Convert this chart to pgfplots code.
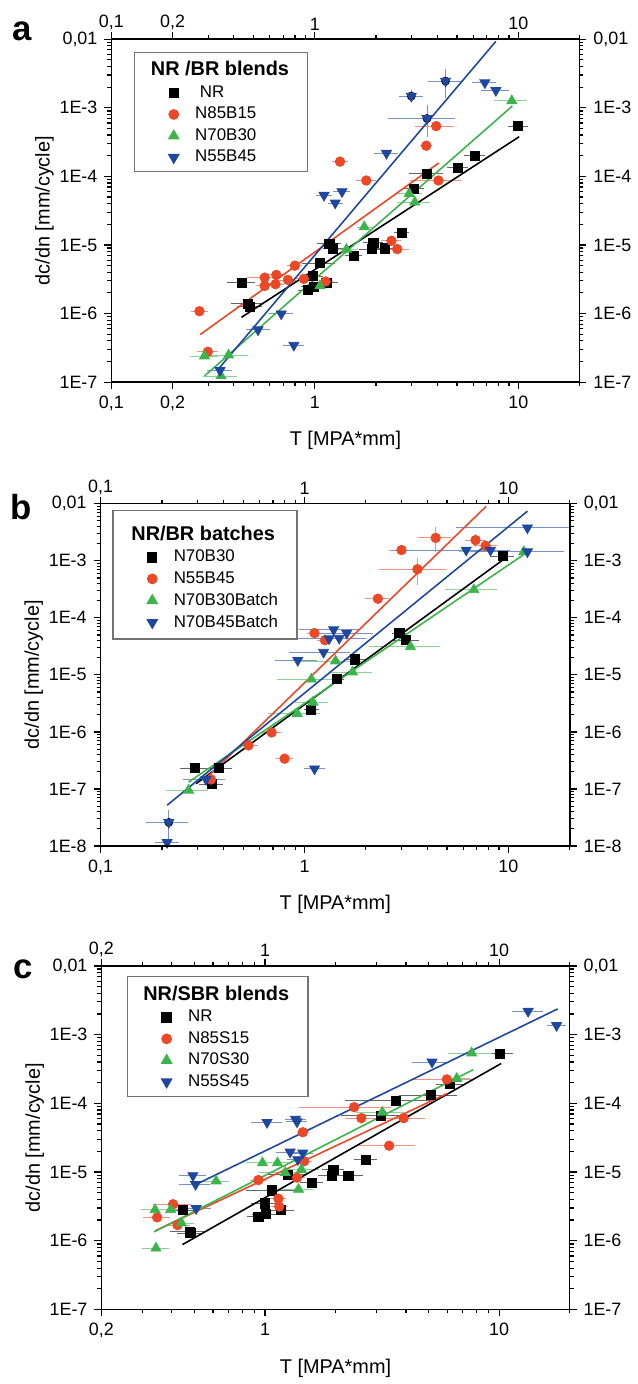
\documentclass[border=0pt]{standalone}
\usepackage{pgfplots}
\pgfplotsset{compat=1.18}
\usepackage{fontspec}
\setmainfont{Liberation Sans}
\definecolor{cr}{RGB}{236,72,40}
\definecolor{cg}{RGB}{60,180,75}
\definecolor{cb}{RGB}{30,72,160}
\begin{document}
\begin{tikzpicture}
\path (0,0) rectangle (316.5pt,-692pt);
% ---------------- panel a ----------------
\begin{axis}[xmode=log, ymode=log, scale only axis, width=235.5pt, height=172.5pt,
  at={(56pt,-19.7pt)}, anchor=north west,
  xmin=0.1, xmax=20, ymin=1e-7, ymax=1e-2,
  tick align=outside, axis line style={line width=0.8pt}, tick style={line width=0.6pt, black},
  major tick length=3.5pt, minor tick length=2pt,
  tick label style={font=\fontsize{9}{10}\selectfont},
  label style={font=\fontsize{10}{12}\selectfont},
  xlabel style={yshift=-3.5pt}, ylabel style={yshift=-4pt},
  xtick={0.1,0.2,1,10}, xticklabels={{0,1},{0,2},1,10},
  minor xtick={0.3,0.4,0.5,0.6,0.7,0.8,0.9,2,3,4,5,6,7,8,9,20},
  ytick={1e-7,1e-6,1e-5,1e-4,1e-3,1e-2},
  yticklabels={1E-7,1E-6,1E-5,1E-4,1E-3,{0,01}},
  minor ytick={2e-7,3e-7,4e-7,5e-7,6e-7,7e-7,8e-7,9e-7,2e-6,3e-6,4e-6,5e-6,6e-6,7e-6,8e-6,9e-6,2e-5,3e-5,4e-5,5e-5,6e-5,7e-5,8e-5,9e-5,2e-4,3e-4,4e-4,5e-4,6e-4,7e-4,8e-4,9e-4,2e-3,3e-3,4e-3,5e-3,6e-3,7e-3,8e-3,9e-3},
  xlabel={T [MPA*mm]}, ylabel={dc/dn [mm/cycle]},
  legend cell align=left,
  legend image code/.code={\path (0pt,0pt) (20.5pt,0pt); \draw[#1] plot coordinates {(11.5pt,0pt)};},
  legend style={at={(0.048,0.964)}, anchor=north west, draw=black!55, line width=0.6pt, fill=white,
    font=\fontsize{8.5}{10}\selectfont, inner xsep=8pt, inner ysep=2pt, row sep=0.4pt, nodes={inner sep=1.5pt}}]
\addlegendimage{empty legend}
\addlegendentry{\hspace{-22.3pt}\fontsize{10}{12}\selectfont\bfseries\rule{0pt}{8.5pt}NR /BR blends}
\addplot[forget plot, only marks, mark=none, error bars/.cd, y dir=both, y explicit,
  error bar style={draw=cb!60, line width=0.4pt}, error mark options={mark size=1.6pt, draw=cb!60, line width=0.4pt}]
  coordinates {(3.56,6.97e-4) +- (0,2.8e-4) (4.39,2.45e-3) +- (0,0.9e-3) (2.98,1.48e-3) +- (0,0.15e-3)};
\addplot[only marks, mark=square*, mark size=2.3pt, color=black, error bars/.cd, x dir=both, x explicit relative,
  error bar style={draw=black!60, line width=0.4pt}, error mark options={mark size=1.6pt, draw=black!60, line width=0.4pt}]
  coordinates {
(0.437,2.83e-6) +- (0.12,0) (0.47,1.4e-6) +- (0.15,0) (0.48,1.25e-6) +- (0.1,0)
(0.927,2.21e-6) +- (0.08,0) (0.99,2.47e-6) +- (0.1,0) (0.977,3.53e-6) +- (0.08,0)
(1.06,5.4e-6) +- (0.15,0) (1.18,1.05e-5) +- (0.1,0) (1.23,8.9e-6) +- (0.08,0)
(1.14,2.83e-6) +- (0.1,0) (1.55,6.97e-6) +- (0.06,0) (1.94,1.08e-5) +- (0.08,0)
(1.9,8.7e-6) +- (0.1,0) (2.21,8.9e-6) +- (0.06,0) (2.67,1.5e-5) +- (0.05,0)
(3.07,6.6e-5) +- (0.08,0) (3.56,1.09e-4) +- (0.15,0) (5.04,1.33e-4) +- (0.08,0)
(6.12,2.0e-4) +- (0.08,0) (10.0,5.4e-4) +- (0.08,0)};
\addlegendentry{\ NR}
\addplot[only marks, mark=*, mark size=2.4pt, color=cr, error bars/.cd, x dir=both, x explicit relative,
  error bar style={draw=cr!60, line width=0.4pt}, error mark options={mark size=1.6pt, draw=cr!60, line width=0.4pt}]
  coordinates {
(0.271,1.08e-6) +- (0.06,0) (0.298,2.77e-7) +- (0.08,0) (0.567,3.34e-6) +- (0.15,0)
(0.567,2.53e-6) +- (0.06,0) (0.647,3.66e-6) +- (0.06,0) (0.641,2.68e-6) +- (0.06,0)
(0.738,3.09e-6) +- (0.06,0) (0.798,4.99e-6) +- (0.05,0) (0.883,3.2e-6) +- (0.05,0)
(1.13,2.93e-6) +- (0.05,0) (1.33,1.64e-4) +- (0.05,0) (1.79,8.7e-5) +- (0.08,0)
(2.38,1.15e-5) +- (0.08,0) (2.54,8.7e-6) +- (0.1,0) (3.53,2.8e-4) +- (0.03,0)
(3.95,5.4e-4) +- (0.18,0) (4.05,8.7e-5) +- (0.25,0)};
\addlegendentry{N85B15}
\addplot[only marks, mark=triangle*, mark size=2.9pt, color=cg, error bars/.cd, x dir=both, x explicit relative,
  error bar style={draw=cg!60, line width=0.4pt}, error mark options={mark size=1.6pt, draw=cg!60, line width=0.4pt}]
  coordinates {
(0.287,2.4e-7) +- (0.12,0) (0.377,2.48e-7) +- (0.2,0) (0.346,1.23e-7) +- (0.15,0)
(1.06,2.53e-6) +- (0.1,0) (1.43,8.6e-6) +- (0.1,0) (1.75,1.83e-5) +- (0.05,0)
(2.91,5.6e-5) +- (0.12,0) (3.1,4.2e-5) +- (0.15,0) (9.29,1.26e-3) +- (0.15,0)};
\addlegendentry{N70B30}
\addplot[only marks, mark=triangle*, mark options={rotate=180}, mark size=2.9pt, color=cb, error bars/.cd, x dir=both, x explicit relative,
  error bar style={draw=cb!60, line width=0.4pt}, error mark options={mark size=1.6pt, draw=cb!60, line width=0.4pt}]
  coordinates {
(0.342,1.48e-7) +- (0.1,0) (0.526,5.8e-7) +- (0.1,0) (0.684,9.9e-7) +- (0.1,0)
(0.789,3.46e-7) +- (0.08,0) (1.11,5.3e-5) +- (0.05,0) (1.26,4.1e-5) +- (0.05,0)
(1.36,6.0e-5) +- (0.06,0) (2.25,2.17e-4) +- (0.1,0) (2.98,1.48e-3) +- (0.1,0)
(3.56,6.97e-4) +- (0.33,0) (4.39,2.45e-3) +- (0.15,0) (6.85,2.32e-3) +- (0.1,0)
(7.76,1.79e-3) +- (0.12,0)};
\addlegendentry{N55B45}
\addplot[forget plot, no marks, line width=0.8pt, color=black] coordinates {(0.436,8.8e-7) (10.1,3.78e-4)};
\addplot[forget plot, no marks, line width=0.8pt, color=cr] coordinates {(0.273,4.93e-7) (4.07,1.57e-4)};
\addplot[forget plot, no marks, line width=0.8pt, color=cg] coordinates {(0.287,1.23e-7) (9.35,1.06e-3)};
\addplot[forget plot, no marks, line width=0.8pt, color=cb] coordinates {(0.34,1.62e-7) (7.76,9.3e-3)};
\end{axis}
\begin{axis}[xmode=log, ymode=log, scale only axis, width=235.5pt, height=172.5pt,
  at={(56pt,-19.7pt)}, anchor=north west,
  xmin=0.1, xmax=20, ymin=1e-7, ymax=1e-2,
  tick align=outside, axis line style={line width=0.8pt}, tick style={line width=0.6pt, black},
  major tick length=3.5pt, minor tick length=2pt,
  tick label style={font=\fontsize{9}{10}\selectfont}, xticklabel style={yshift=-2.5pt},
  xtick={0.1,0.2,1,10}, xticklabels={{0,1},{0,2},1,10}, minor xtick={},
  ytick={1e-7,1e-6,1e-5,1e-4,1e-3,1e-2},
  yticklabels={1E-7,1E-6,1E-5,1E-4,1E-3,{0,01}},
  xticklabel pos=upper, yticklabel pos=right]
\addplot[draw=none, mark=none] coordinates {(1,1e-5)};
\end{axis}
% ---------------- panel b ----------------
\begin{axis}[xmode=log, ymode=log, scale only axis, width=236pt, height=172.2pt,
  at={(50.6pt,-253.35pt)}, anchor=north west,
  xmin=0.1, xmax=20, ymin=1e-8, ymax=1e-2,
  tick align=outside, axis line style={line width=0.8pt}, tick style={line width=0.6pt, black},
  major tick length=3.5pt, minor tick length=2pt,
  tick label style={font=\fontsize{9}{10}\selectfont},
  label style={font=\fontsize{10}{12}\selectfont},
  xlabel style={yshift=-3.5pt}, ylabel style={yshift=-4pt},
  xtick={0.1,1,10}, xticklabels={{0,1},1,10},
  minor xtick={0.2,0.3,0.4,0.5,0.6,0.7,0.8,0.9,2,3,4,5,6,7,8,9,20},
  ytick={1e-8,1e-7,1e-6,1e-5,1e-4,1e-3,1e-2},
  yticklabels={1E-8,1E-7,1E-6,1E-5,1E-4,1E-3,{0,01}},
  minor ytick={2e-8,3e-8,4e-8,5e-8,6e-8,7e-8,8e-8,9e-8,2e-7,3e-7,4e-7,5e-7,6e-7,7e-7,8e-7,9e-7,2e-6,3e-6,4e-6,5e-6,6e-6,7e-6,8e-6,9e-6,2e-5,3e-5,4e-5,5e-5,6e-5,7e-5,8e-5,9e-5,2e-4,3e-4,4e-4,5e-4,6e-4,7e-4,8e-4,9e-4,2e-3,3e-3,4e-3,5e-3,6e-3,7e-3,8e-3,9e-3},
  xlabel={T [MPA*mm]}, ylabel={dc/dn [mm/cycle]},
  legend cell align=left,
  legend image code/.code={\path (0pt,0pt) (20.5pt,0pt); \draw[#1] plot coordinates {(11.5pt,0pt)};},
  legend style={at={(0.025,0.982)}, anchor=north west, draw=black!55, line width=0.6pt, fill=white,
    font=\fontsize{8.5}{10}\selectfont, inner xsep=8pt, inner ysep=3pt, row sep=0.4pt, nodes={inner sep=1.5pt}}]
\addlegendimage{empty legend}
\addlegendentry{\hspace{-21.3pt}\fontsize{10}{12}\selectfont\bfseries\rule{0pt}{10.5pt}NR/BR batches}
\addplot[forget plot, only marks, mark=none, error bars/.cd, y dir=both, y explicit,
  error bar style={draw=cr!60, line width=0.4pt}, error mark options={mark size=1.6pt, draw=cr!60, line width=0.4pt}]
  coordinates {(3.58,7.1e-4) +- (0,2.8e-4) (4.4,2.52e-3) +- (0,0.9e-3) (6.9,2.3e-3) +- (0,0.3e-3)};
\addplot[forget plot, only marks, mark=none, error bars/.cd, y dir=both, y explicit,
  error bar style={draw=cb!60, line width=0.4pt}, error mark options={mark size=1.6pt, draw=cb!60, line width=0.4pt}]
  coordinates {(0.216,2.6e-8) +- (0,1.1e-8)};
\addplot[only marks, mark=square*, mark size=2.3pt, color=black, error bars/.cd, x dir=both, x explicit relative,
  error bar style={draw=black!60, line width=0.4pt}, error mark options={mark size=1.6pt, draw=black!60, line width=0.4pt}]
  coordinates {
(0.29,2.32e-7) +- (0.12,0) (0.382,2.32e-7) +- (0.12,0) (0.35,1.21e-7) +- (0.1,0)
(1.08,2.44e-6) +- (0.05,0) (1.44,8.4e-6) +- (0.05,0) (1.77,1.87e-5) +- (0.08,0)
(2.92,5.4e-5) +- (0.05,0) (3.15,4.05e-5) +- (0.12,0) (9.38,1.21e-3) +- (0.1,0)};
\addlegendentry{N70B30}
\addplot[only marks, mark=*, mark size=2.4pt, color=cr, error bars/.cd, x dir=both, x explicit relative,
  error bar style={draw=cr!60, line width=0.4pt}, error mark options={mark size=1.6pt, draw=cr!60, line width=0.4pt}]
  coordinates {
(0.348,1.47e-7) +- (0.08,0) (0.531,5.8e-7) +- (0.07,0) (0.69,9.8e-7) +- (0.07,0)
(0.799,3.4e-7) +- (0.06,0) (1.12,5.4e-5) +- (0.05,0) (1.26,4.05e-5) +- (0.05,0)
(2.29,2.16e-4) +- (0.1,0) (2.99,1.54e-3) +- (0.1,0) (3.58,7.1e-4) +- (0.33,0)
(4.4,2.52e-3) +- (0.15,0) (6.9,2.3e-3) +- (0.08,0) (7.73,1.83e-3) +- (0.1,0)};
\addlegendentry{N55B45}
\addplot[only marks, mark=triangle*, mark size=2.9pt, color=cg, error bars/.cd, x dir=both, x explicit relative,
  error bar style={draw=cg!60, line width=0.4pt}, error mark options={mark size=1.6pt, draw=cg!60, line width=0.4pt}]
  coordinates {
(0.27,9.5e-8) +- (0.2,0) (0.92,2.1e-6) +- (0.25,0) (1.1,3.3e-6) +- (0.15,0)
(1.08,8.4e-6) +- (0.3,0) (1.42,1.75e-5) +- (0.3,0) (1.72,1.12e-5) +- (0.2,0)
(3.31,3.1e-5) +- (0.35,0) (6.77,3.1e-4) +- (0.25,0) (11.9,1.44e-3) +- (0.5,0)};
\addlegendentry{N70B30Batch}
\addplot[only marks, mark=triangle*, mark options={rotate=180}, mark size=2.9pt, color=cb, error bars/.cd, x dir=both, x explicit relative,
  error bar style={draw=cb!60, line width=0.4pt}, error mark options={mark size=1.6pt, draw=cb!60, line width=0.4pt}]
  coordinates {
(0.212,1.16e-8) +- (0.1,0) (0.216,2.6e-8) +- (0.2,0) (0.329,1.47e-7) +- (0.2,0)
(1.12,2.26e-7) +- (0.08,0) (0.927,1.8e-5) +- (0.2,0) (1.24,2.5e-5) +- (0.3,0)
(1.32,4.3e-5) +- (0.4,0) (1.48,4.4e-5) +- (0.3,0) (1.61,5.4e-5) +- (0.3,0)
(1.39,6.2e-5) +- (0.3,0) (6.21,1.54e-3) +- (0.55,0) (8.17,1.54e-3) +- (0.2,0)
(12.4,1.44e-3) +- (0.45,0) (12.4,3.78e-3) +- (0.54,0)};
\addlegendentry{N70B45Batch}
\addplot[forget plot, no marks, line width=0.8pt, color=black] coordinates {(0.294,1.24e-7) (9.38,1.03e-3)};
\addplot[forget plot, no marks, line width=0.8pt, color=cr] coordinates {(0.341,1.73e-7) (7.78,9.0e-3)};
\addplot[forget plot, no marks, line width=0.8pt, color=cg] coordinates {(0.27,1.32e-7) (12.0,1.31e-3)};
\addplot[forget plot, no marks, line width=0.8pt, color=cb] coordinates {(0.212,5.2e-8) (12.4,7.4e-3)};
\end{axis}
\begin{axis}[xmode=log, ymode=log, scale only axis, width=236pt, height=172.2pt,
  at={(50.6pt,-253.35pt)}, anchor=north west,
  xmin=0.1, xmax=20, ymin=1e-8, ymax=1e-2,
  tick align=outside, axis line style={line width=0.8pt}, tick style={line width=0.6pt, black},
  major tick length=3.5pt, minor tick length=2pt,
  tick label style={font=\fontsize{9}{10}\selectfont}, xticklabel style={yshift=-2.5pt},
  xtick={0.1,1,10}, xticklabels={{0,1},1,10}, minor xtick={},
  ytick={1e-8,1e-7,1e-6,1e-5,1e-4,1e-3,1e-2},
  yticklabels={1E-8,1E-7,1E-6,1E-5,1E-4,1E-3,{0,01}},
  xticklabel pos=upper, yticklabel pos=right]
\addplot[draw=none, mark=none] coordinates {(1,1e-5)};
\end{axis}
% ---------------- panel c ----------------
\begin{axis}[xmode=log, ymode=log, scale only axis, width=235.5pt, height=172.8pt,
  at={(51pt,-485.85pt)}, anchor=north west,
  xmin=0.2, xmax=20, ymin=1e-7, ymax=1e-2,
  tick align=outside, axis line style={line width=0.8pt}, tick style={line width=0.6pt, black},
  major tick length=3.5pt, minor tick length=2pt,
  tick label style={font=\fontsize{9}{10}\selectfont},
  label style={font=\fontsize{10}{12}\selectfont},
  xlabel style={yshift=-3.5pt}, ylabel style={yshift=-4pt},
  xtick={0.2,1,10}, xticklabels={{0,2},1,10},
  minor xtick={0.3,0.4,0.5,0.6,0.7,0.8,0.9,2,3,4,5,6,7,8,9,20},
  ytick={1e-7,1e-6,1e-5,1e-4,1e-3,1e-2},
  yticklabels={1E-7,1E-6,1E-5,1E-4,1E-3,{0,01}},
  minor ytick={2e-7,3e-7,4e-7,5e-7,6e-7,7e-7,8e-7,9e-7,2e-6,3e-6,4e-6,5e-6,6e-6,7e-6,8e-6,9e-6,2e-5,3e-5,4e-5,5e-5,6e-5,7e-5,8e-5,9e-5,2e-4,3e-4,4e-4,5e-4,6e-4,7e-4,8e-4,9e-4,2e-3,3e-3,4e-3,5e-3,6e-3,7e-3,8e-3,9e-3},
  xlabel={T [MPA*mm]}, ylabel={dc/dn [mm/cycle]},
  legend cell align=left,
  legend image code/.code={\path (0pt,0pt) (20.5pt,0pt); \draw[#1] plot coordinates {(11.5pt,0pt)};},
  legend style={at={(0.054,0.971)}, anchor=north west, draw=black!55, line width=0.6pt, fill=white,
    font=\fontsize{8.5}{10}\selectfont, inner xsep=8pt, inner ysep=2pt, row sep=0.4pt, nodes={inner sep=1.5pt}}]
\addlegendimage{empty legend}
\addlegendentry{\hspace{-22.5pt}\fontsize{10}{12}\selectfont\bfseries\rule{0pt}{8.5pt}NR/SBR blends}
\addplot[only marks, mark=square*, mark size=2.3pt, color=black, error bars/.cd, x dir=both, x explicit relative,
  error bar style={draw=black!60, line width=0.4pt}, error mark options={mark size=1.6pt, draw=black!60, line width=0.4pt}]
  coordinates {
(0.444,2.79e-6) +- (0.1,0) (0.477,1.36e-6) +- (0.15,0) (0.48,1.3e-6) +- (0.1,0)
(0.937,2.24e-6) +- (0.08,0) (1.01,2.44e-6) +- (0.1,0) (1.0,3.5e-6) +- (0.1,0)
(1.07,5.4e-6) +- (0.2,0) (1.17,2.79e-6) +- (0.1,0) (1.25,9.2e-6) +- (0.15,0)
(1.58,7.0e-6) +- (0.08,0) (1.96,1.09e-5) +- (0.08,0) (1.93,8.8e-6) +- (0.1,0)
(2.27,8.9e-6) +- (0.12,0) (2.7,1.52e-5) +- (0.08,0) (3.12,6.6e-5) +- (0.3,0)
(3.61,1.1e-4) +- (0.37,0) (5.12,1.32e-4) +- (0.25,0) (6.18,1.9e-4) +- (0.1,0)
(10.1,5.3e-4) +- (0.1,0)};
\addlegendentry{NR}
\addplot[only marks, mark=*, mark size=2.4pt, color=cr, error bars/.cd, x dir=both, x explicit relative,
  error bar style={draw=cr!60, line width=0.4pt}, error mark options={mark size=1.6pt, draw=cr!60, line width=0.4pt}]
  coordinates {
(0.346,2.19e-6) +- (0.1,0) (0.405,3.4e-6) +- (0.15,0) (0.423,1.69e-6) +- (0.1,0)
(0.937,7.65e-6) +- (0.05,0) (1.14,4.1e-6) +- (0.05,0) (1.15,3.15e-6) +- (0.05,0)
(1.37,8.3e-6) +- (0.05,0) (1.47,1.44e-5) +- (0.05,0) (1.45,3.8e-5) +- (0.03,0)
(2.4,8.8e-5) +- (0.4,0) (2.58,6.1e-5) +- (0.12,0) (3.39,2.42e-5) +- (0.25,0)
(3.91,6.1e-5) +- (0.2,0) (5.98,2.23e-4) +- (0.25,0)};
\addlegendentry{N85S15}
\addplot[only marks, mark=triangle*, mark size=2.9pt, color=cg, error bars/.cd, x dir=both, x explicit relative,
  error bar style={draw=cg!60, line width=0.4pt}, error mark options={mark size=1.6pt, draw=cg!60, line width=0.4pt}]
  coordinates {
(0.339,2.82e-6) +- (0.1,0) (0.342,7.8e-7) +- (0.1,0) (0.395,2.82e-6) +- (0.1,0)
(0.44,1.81e-6) +- (0.1,0) (0.618,7.4e-6) +- (0.1,0) (0.975,1.36e-5) +- (0.12,0)
(1.13,1.36e-5) +- (0.12,0) (1.22,9.8e-6) +- (0.2,0) (1.43,1.09e-5) +- (0.15,0)
(1.39,5.6e-6) +- (0.12,0) (3.17,7.4e-5) +- (0.2,0) (6.59,2.3e-4) +- (0.1,0)
(7.63,5.4e-4) +- (0.18,0)};
\addlegendentry{N70S30}
\addplot[only marks, mark=triangle*, mark options={rotate=180}, mark size=2.9pt, color=cb, error bars/.cd, x dir=both, x explicit relative,
  error bar style={draw=cb!60, line width=0.4pt}, error mark options={mark size=1.6pt, draw=cb!60, line width=0.4pt}]
  coordinates {
(0.492,8.9e-6) +- (0.1,0) (0.505,6.6e-6) +- (0.12,0) (0.508,2.95e-6) +- (0.12,0)
(1.02,5.3e-5) +- (0.12,0) (1.35,5.9e-5) +- (0.07,0) (1.37,5.4e-5) +- (0.07,0)
(1.28,1.96e-5) +- (0.1,0) (1.45,1.9e-5) +- (0.07,0) (1.38,1.52e-5) +- (0.07,0)
(5.17,4.0e-4) +- (0.15,0) (13.3,2.19e-3) +- (0.12,0) (17.6,1.36e-3) +- (0.06,0)};
\addlegendentry{N55S45}
\addplot[forget plot, no marks, line width=0.8pt, color=black] coordinates {(0.444,8.8e-7) (10.2,3.8e-4)};
\addplot[forget plot, no marks, line width=0.8pt, color=cr] coordinates {(0.34,1.4e-6) (6.02,1.4e-4)};
\addplot[forget plot, no marks, line width=0.8pt, color=cg] coordinates {(0.336,1.35e-6) (7.76,3.1e-4)};
\addplot[forget plot, no marks, line width=0.8pt, color=cb] coordinates {(0.525,7.0e-6) (17.8,2.37e-3)};
\end{axis}
\begin{axis}[xmode=log, ymode=log, scale only axis, width=235.5pt, height=172.8pt,
  at={(51pt,-485.85pt)}, anchor=north west,
  xmin=0.2, xmax=20, ymin=1e-7, ymax=1e-2,
  tick align=outside, axis line style={line width=0.8pt}, tick style={line width=0.6pt, black},
  major tick length=3.5pt, minor tick length=2pt,
  tick label style={font=\fontsize{9}{10}\selectfont}, xticklabel style={yshift=-2.5pt},
  xtick={0.2,1,10}, xticklabels={{0,2},1,10}, minor xtick={},
  ytick={1e-7,1e-6,1e-5,1e-4,1e-3,1e-2},
  yticklabels={1E-7,1E-6,1E-5,1E-4,1E-3,{0,01}},
  xticklabel pos=upper, yticklabel pos=right]
\addplot[draw=none, mark=none] coordinates {(1,1e-5)};
\end{axis}
% panel letters
\node at (11.25pt,-15.5pt) {\fontsize{17.5}{18}\selectfont\bfseries a};
\node at (10.5pt,-255pt) {\fontsize{17.5}{18}\selectfont\bfseries b};
\node at (11.5pt,-487.5pt) {\fontsize{17.5}{18}\selectfont\bfseries c};
\end{tikzpicture}
\end{document}
